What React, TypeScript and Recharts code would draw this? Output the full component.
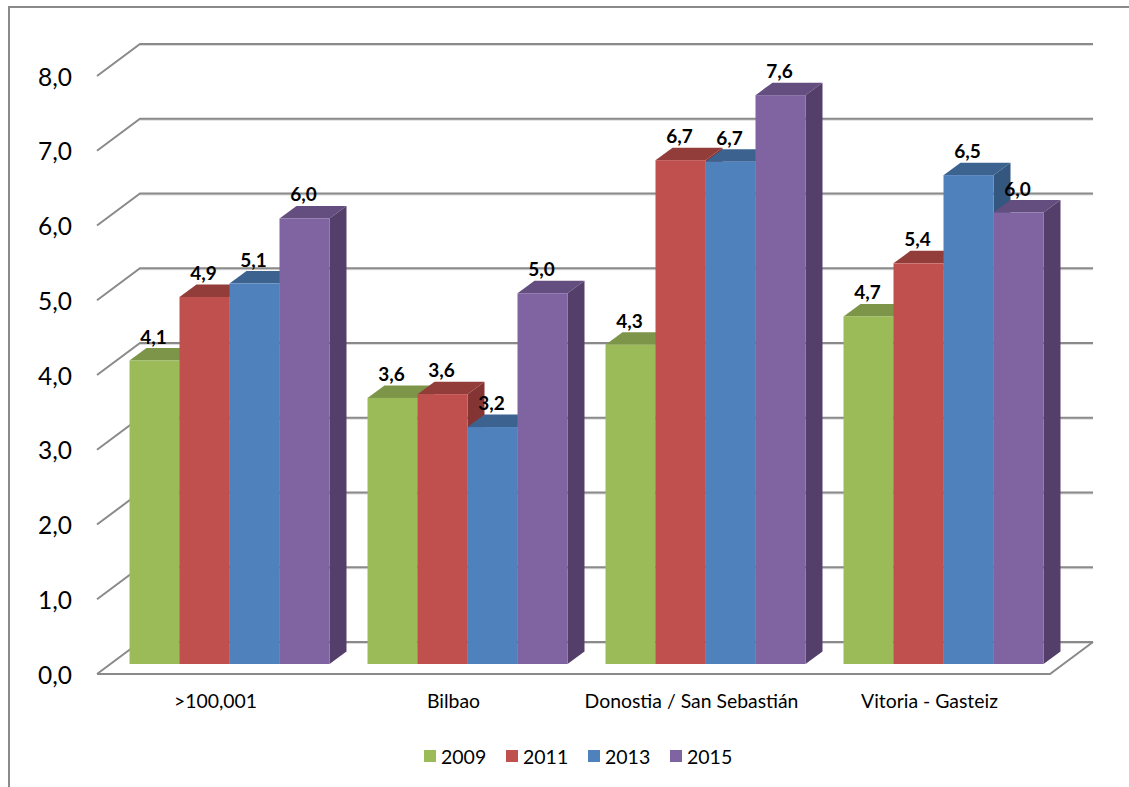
import { BarChart, Bar, XAxis, YAxis, CartesianGrid, Legend, LabelList } from 'recharts';

const categories = ['>100,001', 'Bilbao', 'Donostia / San Sebastián', 'Vitoria - Gasteiz'];
const values2009 = [4.06, 3.56, 4.27, 4.65];
const values2011 = [4.91, 3.61, 6.74, 5.36];
const values2013 = [5.09, 3.17, 6.72, 6.54];
const values2015 = [5.96, 4.96, 7.61, 6.04];
const yTicks = [0, 1, 2, 3, 4, 5, 6, 7, 8];

const data = categories.map((name, i) => ({
    name,
    y2009: values2009[i],
    y2011: values2011[i],
    y2013: values2013[i],
    y2015: values2015[i],
}));

const FONT = 'Lato, sans-serif';
const DEPTH_X = 17;
const DEPTH_Y = 12.5;
const GRID = '#8a8a8a';

const fmt = (v: number) => v.toFixed(1).replace('.', ',');

// front face + top + side, excel style fake 3d
const bar3d = (top: string, side: string) => (props: any) => {
    const { x, y, width, height, fill } = props;
    const r = x + width;
    const b = y + height;
    return (
        <g>
            <path d={`M${x},${y}L${x + DEPTH_X},${y - DEPTH_Y}L${r + DEPTH_X},${y - DEPTH_Y}L${r},${y}Z`} fill={top} />
            <path d={`M${r},${y}L${r + DEPTH_X},${y - DEPTH_Y}L${r + DEPTH_X},${b - DEPTH_Y}L${r},${b}Z`} fill={side} />
            <rect x={x} y={y} width={width} height={height} fill={fill} />
        </g>
    );
};

const gridLine = (props: any) => {
    const y = props.y1;
    const isFloor = Math.abs(y - 664) < 1;
    const d = `M97,${y + 10}L140,${y - 22}L1093,${y - 22}`;
    return (
        <g key={props.key}>
            <path d={`M140,${y - 21}L1093,${y - 21}`} stroke="#dcdcdc" strokeWidth={2} fill="none" />
            <path d={d} stroke={GRID} strokeWidth={2} fill="none" />
            {isFloor && (
                <path d={`M97,${y + 10}L1050,${y + 10}L1093,${y - 22}`} stroke={GRID} strokeWidth={2} fill="none" />
            )}
        </g>
    );
};

const LegendRow = ({ payload }: any) => (
    <div style={{ height: 40, marginTop: -1, display: 'flex', justifyContent: 'flex-start', alignItems: 'center', paddingLeft: 424, fontFamily: FONT, fontSize: 19.5, color: '#000' }}>
        {(payload || []).map((item: any) => (
            <div key={item.value} style={{ width: 82, display: 'flex', alignItems: 'center' }}>
                <span style={{ width: 12, height: 12, background: item.color, marginRight: 5, display: 'inline-block' }} />
                <span>{item.value}</span>
            </div>
        ))}
    </div>
);

const labelProps = {
    position: 'top' as const,
    offset: 17,
    dx: -1,
    formatter: (v: any) => fmt(v),
    fill: '#000',
    fontSize: 19,
    fontWeight: 700,
    fontFamily: FONT,
};

export default function App() {
    return (
        <div style={{ position: 'absolute', left: 0, top: 0, width: 1129, height: 787, overflow: 'hidden', background: '#fff' }}>
            <div style={{ position: 'absolute', left: 8, top: 6, right: 0, bottom: 0, borderLeft: `2px solid ${GRID}`, borderTop: `2px solid ${GRID}` }} />
            <BarChart
                width={1129}
                height={787}
                data={data}
                barSize={50}
                barGap={0}
                margin={{ top: 66, right: 66.5, bottom: 10, left: 0 }}
                style={{ position: 'absolute', left: 0, top: 0 }}
            >
                <CartesianGrid vertical={false} horizontal={gridLine} horizontalValues={yTicks} />
                <XAxis
                    dataKey="name"
                    axisLine={false}
                    tickLine={false}
                    height={73}
                    tickMargin={24}
                    interval={0}
                    tick={{ fontSize: 19.4, fill: '#000', fontFamily: FONT, dx: -14 }}
                />
                <YAxis
                    width={110.5}
                    domain={[0, 8]}
                    ticks={yTicks}
                    interval={0}
                    axisLine={false}
                    tickLine={false}
                    tickSize={0}
                    tickMargin={38.5}
                    tickFormatter={fmt}
                    tick={{ fontSize: 24.5, fill: '#000', fontFamily: FONT, dy: 11 }}
                />
                <Legend verticalAlign="bottom" height={40} content={<LegendRow />} />
                <Bar dataKey="y2009" name="2009" fill="#9bbb59" isAnimationActive={false} shape={bar3d('#7d9548', '#6b8040')}>
                    <LabelList dataKey="y2009" {...labelProps} />
                </Bar>
                <Bar dataKey="y2011" name="2011" fill="#c0504d" isAnimationActive={false} shape={bar3d('#933d3b', '#843533')}>
                    <LabelList dataKey="y2011" {...labelProps} />
                </Bar>
                <Bar dataKey="y2013" name="2013" fill="#4f81bd" isAnimationActive={false} shape={bar3d('#3c638f', '#345780')}>
                    <LabelList dataKey="y2013" {...labelProps} />
                </Bar>
                <Bar dataKey="y2015" name="2015" fill="#8064a2" isAnimationActive={false} shape={bar3d('#644e7f', '#543f6a')}>
                    <LabelList dataKey="y2015" {...labelProps} />
                </Bar>
            </BarChart>
        </div>
    );
}
